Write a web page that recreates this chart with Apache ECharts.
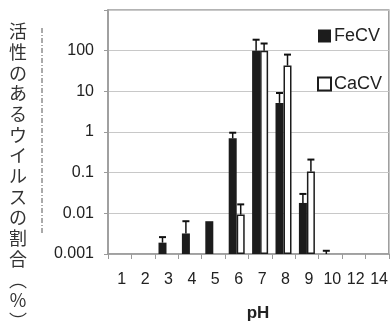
<!DOCTYPE html>
<html><head><meta charset="utf-8">
<script src="https://cdn.jsdelivr.net/npm/echarts@6/dist/echarts.min.js"></script>
<style>html,body{margin:0;padding:0;background:#fff}#c{width:391px;height:322px}</style>
</head><body><div id="c"></div>
<script>
const categories = ['1','2','3','4','5','6','7','8','9','10','12','14'];
const fecv    = [null, null, 0.0019, 0.0032, 0.0064, 0.7, 100, 5.2, 0.018, 0.001, null, null];
const fecvErr = [null, null, 0.0026, 0.0064, null, 0.96, 186, 9.1, 0.030, 0.0012, null, null];
const cacv    = [null, null, null, null, null, 0.0093, 100, 43, 0.107, null, null, null];
const cacvErr = [null, null, null, null, null, 0.0166, 150, 80, 0.21, null, null, null];
const yTickLabels = ['0.001','0.01','0.1','1','10','100'];
const yTitleChars = ['活','性','の','あ','る','ウ','イ','ル','ス','の','割','合','︵','％','︶'];
const xTitle = 'pH';

const BW = 8;
function errData(vals, errs){
  const out = [];
  vals.forEach((v,i)=>{ if (v!=null && errs[i]!=null) out.push([i, v, errs[i]]); });
  return out;
}
function errSeries(vals, errs, dx){
  return {
    type:'custom', silent:true, z:5,
    data: errData(vals, errs),
    renderItem: function(params, api){
      const p0 = api.coord([api.value(0), api.value(1)]);
      const p1 = api.coord([api.value(0), api.value(2)]);
      const x = p0[0] + dx;
      return {type:'group', children:[
        {type:'line', shape:{x1:x, y1:p0[1], x2:x, y2:p1[1]}, style:{stroke:'#111', lineWidth:1.5}},
        {type:'line', shape:{x1:x-3.5, y1:p1[1], x2:x+3.5, y2:p1[1]}, style:{stroke:'#111', lineWidth:2}}
      ]};
    }
  };
}
const chart = echarts.init(document.getElementById('c'));
chart.setOption({
  animation:false,
  backgroundColor:'#fff',
  textStyle:{fontFamily:'Liberation Sans, Arial, sans-serif'},
  grid:{left:108, right:2, top:10, bottom:68, show:true, borderColor:'#9a9a9a', borderWidth:1.5},
  legend:{
    orient:'vertical', left:317, top:27, padding:0, itemWidth:13, itemHeight:13, itemGap:30,
    selectedMode:false, icon:'rect',
    textStyle:{fontSize:18, lineHeight:13, color:'#222', fontFamily:'Liberation Sans, Arial, sans-serif', padding:[0,0,0,-2]},
    data:['FeCV','CaCV']
  },
  xAxis:{
    type:'category', data:categories,
    axisLine:{lineStyle:{color:'#9a9a9a', width:1.5}},
    axisTick:{show:true, length:5, lineStyle:{color:'#9a9a9a'}},
    axisLabel:{fontSize:16, color:'#222', margin:18, interval:0, padding:[0,0,0,4]}
  },
  yAxis:{
    type:'log', logBase:10, min:0.001, max:1000, startValue:0.001,
    axisLine:{show:true, lineStyle:{color:'#9a9a9a', width:1.5}},
    axisTick:{show:true, length:4, lineStyle:{color:'#9a9a9a'}},
    splitLine:{lineStyle:{color:'#c8c8c8', width:1}},
    axisLabel:{fontSize:16, color:'#222', margin:14,
      formatter:function(v){ const k = Math.round(Math.log10(v))+3; return yTickLabels[k] || ''; }}
  },
  graphic:[
    {type:'text', left:9, top:21, style:{text:yTitleChars.join('\n'), font:'18px "Noto Sans CJK JP"', lineHeight:20.7, fill:'#333', align:'center'}},
    {type:'line', shape:{x1:42, y1:28, x2:42, y2:234}, style:{stroke:'#555', lineWidth:1, lineDash:[5,2,1,2]}},
    {type:'text', x:258, y:313, style:{text:xTitle, font:'bold 17px "Liberation Sans", Arial, sans-serif', fill:'#222', align:'center', verticalAlign:'middle'}}
  ],
  series:[
    {name:'FeCV', type:'bar', data:fecv, barWidth:BW, barGap:'0%',
      itemStyle:{color:'#1c1c1c', borderColor:'#1c1c1c', borderWidth:0}},
    {name:'CaCV', type:'bar', data:cacv, barWidth:BW, barGap:'0%',
      itemStyle:{color:'#fff', borderColor:'#1c1c1c', borderWidth:1.5}},
    errSeries(fecv, fecvErr, -BW/2),
    errSeries(cacv, cacvErr, BW/2)
  ]
});
</script></body></html>
